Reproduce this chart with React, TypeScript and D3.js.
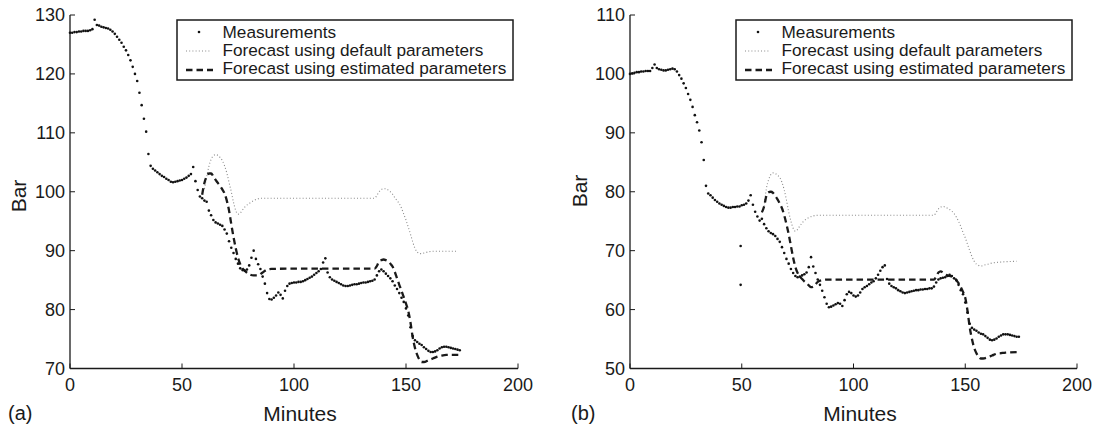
import React from 'react';
import * as d3 from 'd3';

// ---------- DATA ----------
const measA = [
  127.0,127.0,127.1,127.1,127.2,127.2,127.3,127.3,127.3,127.4,
  127.6,129.2,128.3,128.2,128.0,127.9,127.8,127.7,127.5,127.2,
  126.8,126.3,125.8,125.3,124.6,124.0,123.2,122.3,121.2,120.0,
  118.8,116.8,114.7,112.4,110.2,106.4,104.4,103.9,103.6,103.3,
  103.0,102.7,102.5,102.2,102.0,101.7,101.6,101.7,101.8,101.9,
  102.0,102.2,102.4,102.7,103.0,104.2,101.8,100.3,99.2,98.9,
  98.5,98.3,96.8,96.0,95.2,94.8,94.6,94.4,94.2,93.6,
  92.9,91.6,90.5,89.6,88.6,87.8,87.0,86.7,86.6,86.8,
  87.5,88.8,90.0,88.6,87.7,86.9,85.6,84.4,82.8,81.8,
  81.7,82.0,82.4,82.9,82.5,81.9,83.2,84.0,84.4,84.5,
  84.6,84.6,84.7,84.7,84.8,85.0,85.2,85.4,85.6,85.9,
  86.2,86.5,86.9,88.0,88.7,86.3,85.5,85.1,84.9,84.7,
  84.5,84.3,84.1,84.0,84.0,84.1,84.2,84.3,84.3,84.4,
  84.5,84.6,84.6,84.7,84.8,84.9,85.1,85.8,86.5,86.8,
  86.5,86.1,85.7,85.3,84.8,84.1,83.5,82.8,82.0,81.3,
  80.2,79.0,77.0,75.5,74.8,74.5,74.2,74.0,73.6,73.3,
  73.0,72.8,72.8,72.9,73.1,73.4,73.6,73.7,73.7,73.6,
  73.5,73.4,73.3,73.2,73.1,
];

const measB = [
  100.0,100.1,100.2,100.3,100.3,100.4,100.4,100.5,100.5,100.5,
  101.0,101.6,101.0,100.8,100.7,100.6,100.6,100.7,100.8,100.9,
  100.8,100.4,99.8,99.2,98.4,97.6,96.6,95.6,94.4,93.0,
  91.8,90.4,88.4,85.4,81.0,79.7,79.4,79.0,78.6,78.3,
  78.0,77.8,77.6,77.4,77.3,77.3,77.4,77.4,77.5,77.5,
  77.7,77.8,78.0,78.5,79.4,77.8,76.6,75.8,75.1,75.4,
  74.5,73.8,73.3,73.0,72.8,72.5,72.0,71.5,70.6,69.6,
  68.6,67.8,66.9,66.2,65.7,65.5,65.6,65.8,66.0,66.3,
  67.2,68.9,67.3,66.2,65.1,64.2,63.2,62.1,61.0,60.4,
  60.5,60.7,60.9,61.1,61.0,60.6,61.6,62.6,63.0,62.8,
  62.4,62.2,62.4,62.9,63.5,63.8,64.0,64.3,64.6,64.8,
  65.3,65.9,66.6,67.2,67.5,65.2,64.4,64.0,63.8,63.6,
  63.3,63.1,62.9,62.8,62.9,63.0,63.1,63.2,63.3,63.3,
  63.4,63.4,63.5,63.5,63.6,63.6,63.9,64.6,65.1,65.3,
  65.4,65.5,65.7,65.9,65.7,65.3,65.0,64.2,63.3,62.6,
  61.2,59.5,57.6,56.9,56.6,56.4,56.1,55.9,55.8,55.5,
  55.2,54.9,54.8,54.9,55.1,55.4,55.6,55.8,55.8,55.8,
  55.7,55.6,55.5,55.4,55.4,
];
const outlierTimesB = [49.5, 49.5];
const outlierValuesB = [70.8, 64.2];

const defTimesA = [60,61,62,63,64,65,66,67,68,69,70,71,72,73,74,75,76,77,78,80,82,84,86,100,136,137,138,139,140,141,142,143,144,145,146,147,148,149,150,151,152,153,154,155,156,157,158,160,162,173];
const defValuesA = [100.5,102.5,104.3,105.5,106.1,106.3,106.2,105.8,105.3,104.4,103.2,101.6,100.0,98.2,96.8,96.2,96.4,96.9,97.4,98.0,98.5,98.8,98.9,98.9,98.9,99.4,100.0,100.4,100.5,100.5,100.3,100.0,99.6,99.0,98.5,98.0,97.2,96.2,95.2,94.0,92.8,91.5,90.4,89.8,89.5,89.5,89.6,89.8,89.9,89.9];

const estTimesA = [59,60,61,62,63,64,65,66,67,68,69,70,71,72,73,74,75,76,77,78,80,82,84,86,88,90,100,136,137,138,139,140,141,142,143,144,145,146,147,148,149,150,151,152,153,154,155,156,157,158,160,162,164,166,168,174];
const estValuesA = [99.5,101.5,102.6,103.1,103.1,102.6,102.0,101.5,101.0,100.4,99.7,98.5,96.8,94.5,92.3,90.4,88.8,87.7,87.0,86.6,86.0,85.8,85.8,86.3,86.8,86.9,86.95,86.95,87.4,88.2,88.4,88.5,88.4,88.2,87.8,87.3,86.4,85.3,84.2,83.2,82.1,81.0,79.8,77.8,75.3,73.5,72.3,71.5,71.1,71.1,71.4,71.7,72.0,72.2,72.3,72.3];

const defTimesB = [60,61,62,63,64,65,66,67,68,69,70,71,72,73,74,75,76,77,78,80,82,84,100,136,137,138,139,140,141,142,143,144,145,146,147,148,149,150,151,152,153,154,155,156,157,158,160,162,164,173];
const defValuesB = [77.5,80.5,82.0,82.9,83.2,83.1,82.8,82.4,81.6,80.3,78.6,76.6,75.0,73.8,73.3,73.6,74.2,74.7,75.1,75.6,75.9,76.0,76.0,76.0,76.5,77.1,77.4,77.5,77.4,77.2,77.0,76.7,76.3,75.7,75.0,74.1,73.1,72.2,71.1,70.0,69.0,68.2,67.7,67.5,67.4,67.5,67.7,67.9,68.0,68.2];

const estTimesB = [59,60,61,62,63,64,65,66,67,68,69,70,71,72,73,74,75,76,77,78,79,80,81,82,83,84,86,88,100,136,137,138,139,140,141,142,143,144,145,146,147,148,149,150,151,152,153,154,155,156,157,158,160,162,164,166,168,174];
const estValuesB = [76.5,77.5,79.3,79.9,80.0,79.8,79.3,78.7,78.0,77.2,76.0,74.5,72.8,70.8,68.8,67.2,66.2,65.6,65.2,64.8,64.5,64.1,63.8,63.9,64.3,64.7,65.0,65.1,65.1,65.1,65.6,66.3,66.5,66.3,66.0,65.8,65.7,65.6,65.4,65.0,64.5,63.8,63.0,62.0,59.8,57.0,55.0,53.5,52.6,52.0,51.7,51.7,51.9,52.2,52.5,52.6,52.7,52.8];

const xTicks = [0, 50, 100, 150, 200];
const yTicksA = [70, 80, 90, 100, 110, 120, 130];
const yTicksB = [50, 60, 70, 80, 90, 100, 110];
const legendLabels = [
  'Measurements',
  'Forecast using default parameters',
  'Forecast using estimated parameters',
];
const panelLabels = ['(a)', '(b)'];
const xLabel = 'Minutes';
const yLabel = 'Bar';

const FONT = '"Liberation Sans", Arial, Helvetica, sans-serif';
const INK = '#1a1a1a';

type PanelProps = {
  x0: number; x1: number; yTop: number; yBot: number;
  yDomain: [number, number]; yTicks: number[];
  meas: number[]; outT?: number[]; outV?: number[];
  defT: number[]; defV: number[]; estT: number[]; estV: number[];
  legX0: number; legX1: number; label: string; labelX: number;
  yLabelX: number; yLabelY: number; xLabelX: number;
};

function Panel(p: PanelProps) {
  const x = d3.scaleLinear().domain([0, 200]).range([p.x0, p.x1]);
  const y = d3.scaleLinear().domain(p.yDomain).range([p.yBot, p.yTop]);
  const line = d3.line<[number, number]>()
    .x((d) => x(d[0]))
    .y((d) => y(d[1]))
    .curve(d3.curveMonotoneX);
  const defPts = p.defT.map((t, i) => [t, p.defV[i]] as [number, number]);
  const estPts = p.estT.map((t, i) => [t, p.estV[i]] as [number, number]);
  const lx = p.legX0;
  return (
    <g>
      {/* axes */}
      <line x1={p.x0} x2={p.x1} y1={p.yBot} y2={p.yBot} stroke={INK} strokeWidth={1.3} />
      <line x1={p.x0} x2={p.x0} y1={p.yBot} y2={p.yTop} stroke={INK} strokeWidth={1.3} />
      {xTicks.map((t) => (
        <g key={'x' + t}>
          <line x1={x(t)} x2={x(t)} y1={p.yBot} y2={p.yBot - 5} stroke={INK} strokeWidth={1} />
          <text x={x(t)} y={391} textAnchor="middle" fontSize={18} fontFamily={FONT} fill={INK}>{t}</text>
        </g>
      ))}
      {p.yTicks.map((v) => (
        <g key={'y' + v}>
          <line x1={p.x0} x2={p.x0 + 5} y1={y(v)} y2={y(v)} stroke={INK} strokeWidth={1} />
          <text x={p.x0 - 5} y={y(v)} dy="0.36em" textAnchor="end" fontSize={18} fontFamily={FONT} fill={INK}>{v}</text>
        </g>
      ))}
      <text x={p.xLabelX} y={421} textAnchor="middle" fontSize={21} fontFamily={FONT} fill={INK}>{xLabel}</text>
      <text x={p.labelX} y={420} fontSize={20} fontFamily={FONT} fill={INK}>{p.label}</text>
      <text transform={`translate(${p.yLabelX},${p.yLabelY}) rotate(-90)`} textAnchor="middle" dy="0.35em" fontSize={21} fontFamily={FONT} fill={INK}>{yLabel}</text>

      {/* forecasts */}
      <path d={line(defPts) || ''} fill="none" stroke="#8a8a8a" strokeWidth={1.1} strokeDasharray="1 2.2" />
      <path d={line(estPts) || ''} fill="none" stroke={INK} strokeWidth={2.3} strokeDasharray="6.5 4" />

      {/* measurements */}
      {p.meas.map((v, i) => (
        <circle key={'m' + i} cx={x(i)} cy={y(v)} r={1.3} fill="#111" />
      ))}
      {(p.outT || []).map((t, i) => (
        <circle key={'o' + i} cx={x(t)} cy={y((p.outV || [])[i])} r={1.3} fill="#111" />
      ))}

      {/* legend */}
      <rect x={lx} y={20} width={p.legX1 - lx} height={60} fill="#fff" stroke={INK} strokeWidth={1.5} />
      <circle cx={lx + 22} cy={32} r={1.3} fill="#111" />
      <line x1={lx + 9} x2={lx + 34} y1={51} y2={51} stroke="#8a8a8a" strokeWidth={1.1} strokeDasharray="1 2.2" />
      <line x1={lx + 9} x2={lx + 36} y1={70} y2={70} stroke={INK} strokeWidth={2.3} strokeDasharray="6.5 4" />
      {legendLabels.map((s, i) => (
        <text key={s} x={lx + 45.5} y={37.5 + i * 18.3} fontSize={17.2} fontFamily={FONT} fill={INK}>{s}</text>
      ))}
    </g>
  );
}

export default function App() {
  return (
    <svg width={1100} height={424} style={{ position: 'absolute', left: 0, top: 0, background: '#fff' }}>
      <rect x={0} y={0} width={1100} height={424} fill="#fff" />
      <Panel x0={70} x1={518} yTop={15} yBot={368.5} yDomain={[70, 130]} yTicks={yTicksA}
        meas={measA} defT={defTimesA} defV={defValuesA} estT={estTimesA} estV={estValuesA}
        legX0={177} legX1={513} label={panelLabels[0]} labelX={8} yLabelX={19} yLabelY={196} xLabelX={300} />
      <Panel x0={630} x1={1077} yTop={15} yBot={368.5} yDomain={[50, 110]} yTicks={yTicksB}
        meas={measB} outT={outlierTimesB} outV={outlierValuesB}
        defT={defTimesB} defV={defValuesB} estT={estTimesB} estV={estValuesB}
        legX0={736} legX1={1072} label={panelLabels[1]} labelX={571} yLabelX={580} yLabelY={191} xLabelX={860} />
    </svg>
  );
}
